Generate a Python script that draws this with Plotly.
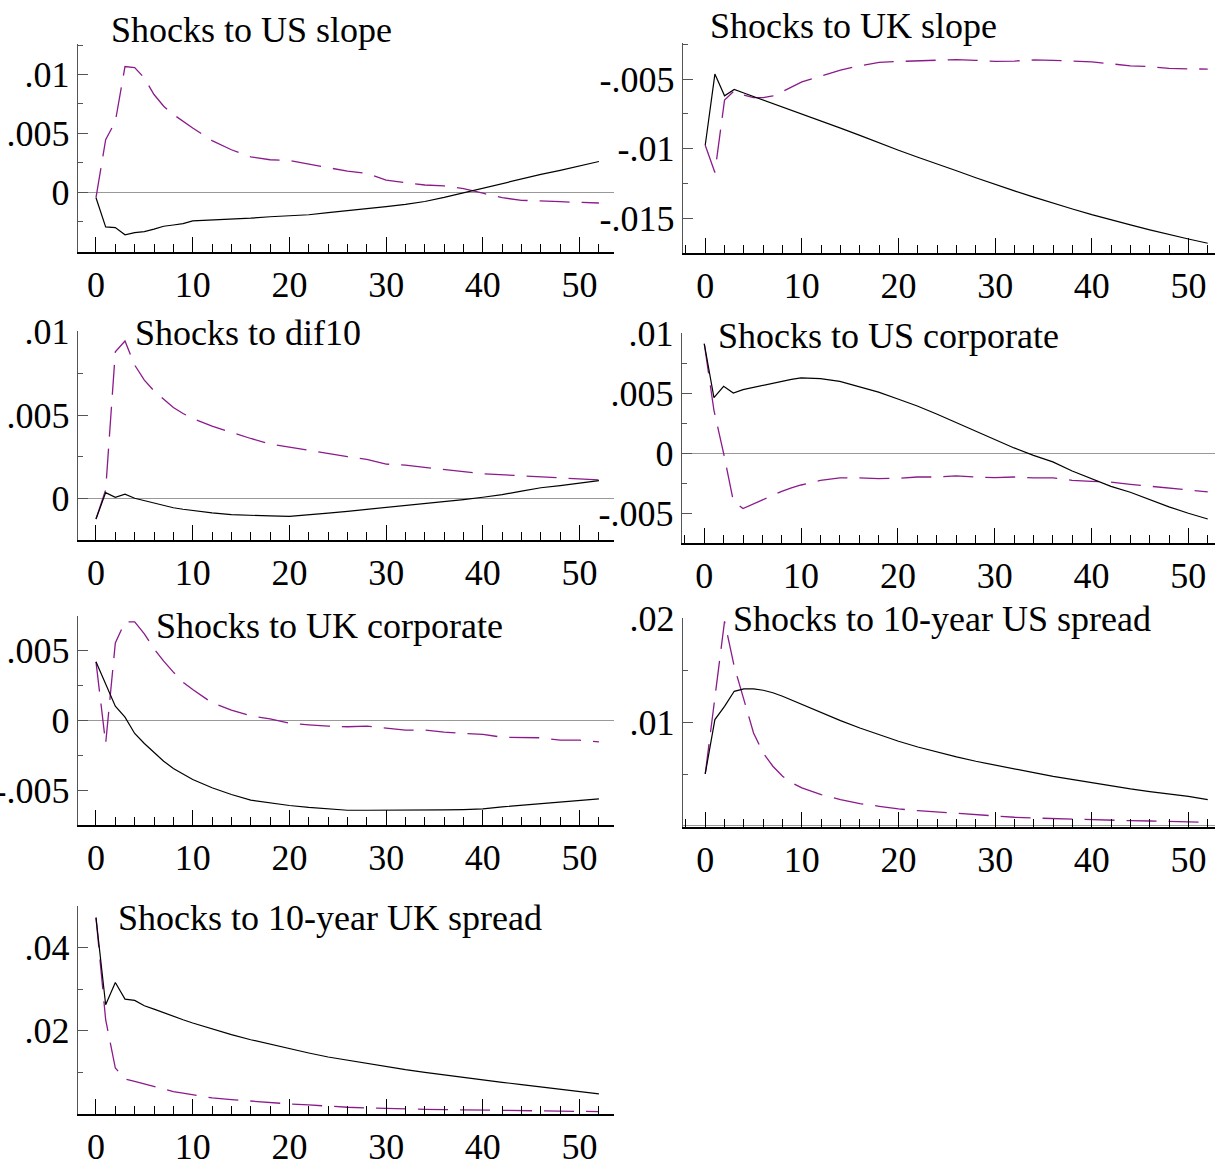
import plotly.graph_objects as go

# ---------------- data ----------------
horizon = [0, 1, 2, 3, 4, 5, 6, 7, 8, 9, 10, 12, 14, 16, 18, 20, 22, 24, 26, 28,
           30, 32, 34, 36, 38, 40, 42, 44, 46, 48, 50, 52]

titles = ["Shocks to US slope", "Shocks to UK slope", "Shocks to dif10",
          "Shocks to US corporate", "Shocks to UK corporate",
          "Shocks to 10-year US spread", "Shocks to 10-year UK spread"]

us_slope_solid = [-0.00048, -0.00297, -0.00302, -0.00364, -0.00345, -0.00336, -0.00315, -0.00291,
                  -0.00280, -0.00268, -0.00245, -0.00238, -0.00230, -0.00222, -0.00210, -0.00203,
                  -0.00193, -0.00175, -0.00160, -0.00143, -0.00124, -0.00105, -0.00080, -0.00045,
                  -0.00005, 0.00034, 0.00070, 0.00110, 0.00150, 0.00185, 0.00225, 0.00260]
us_slope_dash = [-0.00048, 0.00446, 0.00600, 0.01068, 0.01060, 0.00970, 0.00830, 0.00730,
                 0.00660, 0.00600, 0.00545, 0.00438, 0.00360, 0.00300, 0.00275, 0.00268,
                 0.00240, 0.00206, 0.00178, 0.00158, 0.00102, 0.00079, 0.00060, 0.00052,
                 0.00030, -0.00010, -0.00048, -0.00070, -0.00079, -0.00082, -0.00088, -0.00093]

uk_slope_solid = [-0.00976, -0.00464, -0.00620, -0.00574, -0.00600, -0.00625, -0.00650, -0.00675,
                  -0.00700, -0.00724, -0.00748, -0.00800, -0.00853, -0.00905, -0.00960, -0.01012,
                  -0.01063, -0.01110, -0.01160, -0.01210, -0.01260, -0.01305, -0.01350, -0.01395,
                  -0.01435, -0.01476, -0.01515, -0.01550, -0.01585, -0.01620, -0.01651, -0.01682]
uk_slope_dash = [-0.00976, -0.01172, -0.00650, -0.00584, -0.00615, -0.00634, -0.00634, -0.00620,
                 -0.00590, -0.00555, -0.00520, -0.00478, -0.00435, -0.00404, -0.00380, -0.00373,
                 -0.00370, -0.00362, -0.00359, -0.00365, -0.00372, -0.00370, -0.00362, -0.00365,
                 -0.00372, -0.00376, -0.00390, -0.00404, -0.00410, -0.00423, -0.00426, -0.00428]

dif10_solid = [-0.00122, 0.00036, 0.00008, 0.00026, 0.00002, -0.00012, -0.00028, -0.00044,
               -0.00055, -0.00064, -0.00072, -0.00086, -0.00096, -0.00102, -0.00104, -0.00106,
               -0.00098, -0.00087, -0.00076, -0.00065, -0.00050, -0.00042, -0.00030, -0.00018,
               -0.00006, 0.00008, 0.00024, 0.00045, 0.00065, 0.00078, 0.00094, 0.00108]
dif10_dash = [-0.00122, 0.00052, 0.00880, 0.00944, 0.00800, 0.00710, 0.00645, 0.00594,
              0.00546, 0.00510, 0.00480, 0.00434, 0.00396, 0.00360, 0.00327, 0.00307,
              0.00287, 0.00267, 0.00251, 0.00235, 0.00207, 0.00200, 0.00186, 0.00175,
              0.00161, 0.00149, 0.00143, 0.00135, 0.00128, 0.00124, 0.00116, 0.00112]

us_corp_solid = [0.00916, 0.00465, 0.00560, 0.00504, 0.00532, 0.00549, 0.00568, 0.00585,
                 0.00604, 0.00618, 0.00630, 0.00624, 0.00602, 0.00560, 0.00512, 0.00454,
                 0.00396, 0.00329, 0.00259, 0.00187, 0.00117, 0.00045, -0.00017, -0.00072,
                 -0.00148, -0.00212, -0.00276, -0.00326, -0.00387, -0.00448, -0.00501, -0.00549]
us_corp_dash = [0.00916, 0.00359, 0.00000, -0.00398, -0.00462, -0.00426, -0.00387, -0.00352,
                -0.00318, -0.00290, -0.00265, -0.00226, -0.00206, -0.00206, -0.00212, -0.00209,
                -0.00198, -0.00198, -0.00189, -0.00198, -0.00203, -0.00198, -0.00206, -0.00206,
                -0.00226, -0.00234, -0.00240, -0.00259, -0.00276, -0.00290, -0.00309, -0.00323]

uk_corp_solid = [0.00421, 0.00258, 0.00103, 0.00024, -0.00093, -0.00165, -0.00232, -0.00292,
                 -0.00344, -0.00385, -0.00423, -0.00483, -0.00531, -0.00572, -0.00593, -0.00610,
                 -0.00624, -0.00636, -0.00644, -0.00644, -0.00644, -0.00646, -0.00642, -0.00642,
                 -0.00639, -0.00634, -0.00620, -0.00608, -0.00598, -0.00584, -0.00572, -0.00562]
uk_corp_dash = [0.00421, -0.00165, 0.00557, 0.00708, 0.00708, 0.00622, 0.00514, 0.00426,
                0.00347, 0.00275, 0.00222, 0.00127, 0.00074, 0.00033, 0.00012, -0.00019,
                -0.00031, -0.00041, -0.00045, -0.00041, -0.00055, -0.00069, -0.00069, -0.00084,
                -0.00093, -0.00100, -0.00120, -0.00124, -0.00124, -0.00141, -0.00141, -0.00153]

us_spread_solid = [0.00502, 0.01026, 0.01154, 0.01299, 0.01322, 0.01322, 0.01309, 0.01285,
                   0.01251, 0.01212, 0.01170, 0.01090, 0.01016, 0.00945, 0.00881, 0.00817,
                   0.00762, 0.00711, 0.00666, 0.00624, 0.00585, 0.00547, 0.00514, 0.00479,
                   0.00447, 0.00415, 0.00386, 0.00357, 0.00331, 0.00309, 0.00286, 0.00254]
us_spread_dash = [0.00502, 0.01219, 0.01974, 0.01540, 0.01219, 0.00897, 0.00704, 0.00576,
                  0.00479, 0.00415, 0.00367, 0.00302, 0.00254, 0.00215, 0.00190, 0.00164,
                  0.00148, 0.00135, 0.00119, 0.00106, 0.00093, 0.00084, 0.00077, 0.00071,
                  0.00064, 0.00061, 0.00055, 0.00051, 0.00048, 0.00045, 0.00042, 0.00035]

uk_spread_solid = [0.04730, 0.02627, 0.03165, 0.02763, 0.02731, 0.02602, 0.02522, 0.02430,
                   0.02345, 0.02265, 0.02185, 0.02040, 0.01904, 0.01783, 0.01671, 0.01566,
                   0.01462, 0.01365, 0.01285, 0.01205, 0.01133, 0.01060, 0.00996, 0.00932,
                   0.00867, 0.00811, 0.00755, 0.00699, 0.00643, 0.00594, 0.00546, 0.00474]
uk_spread_dash = [0.04730, 0.02265, 0.01100, 0.00835, 0.00779, 0.00715, 0.00643, 0.00578,
                  0.00530, 0.00494, 0.00458, 0.00378, 0.00337, 0.00297, 0.00257, 0.00233,
                  0.00209, 0.00177, 0.00153, 0.00137, 0.00121, 0.00112, 0.00104, 0.00096,
                  0.00088, 0.00080, 0.00072, 0.00064, 0.00064, 0.00056, 0.00056, 0.00048]

x_tick_vals = [0, 10, 20, 30, 40, 50]
x_tick_text = ["0", "10", "20", "30", "40", "50"]

y_ticks = [
    ([0, 0.005, 0.01], ["0", ".005", ".01"]),
    ([-0.015, -0.01, -0.005], ["-.015", "-.01", "-.005"]),
    ([0, 0.005, 0.01], ["0", ".005", ".01"]),
    ([-0.005, 0, 0.005, 0.01], ["-.005", "0", ".005", ".01"]),
    ([-0.005, 0, 0.005], ["-.005", "0", ".005"]),
    ([0.01, 0.02], [".01", ".02"]),
    ([0.02, 0.04], [".02", ".04"]),
]
y_minor = [
    [-0.0025, 0.0025, 0.0075, 0.0125],
    [-0.0175, -0.0125, -0.0075, -0.0025],
    [-0.0025, 0.0025, 0.0075],
    [-0.0075, -0.0025, 0.0025, 0.0075],
    [-0.0075, -0.0025, 0.0025, 0.0075],
    [0.005, 0.015],
    [0.01, 0.03, 0.05],
]

series = [
    (us_slope_solid, us_slope_dash),
    (uk_slope_solid, uk_slope_dash),
    (dif10_solid, dif10_dash),
    (us_corp_solid, us_corp_dash),
    (uk_corp_solid, uk_corp_dash),
    (us_spread_solid, us_spread_dash),
    (uk_spread_solid, uk_spread_dash),
]

# ---------------- layout geometry (pixels) ----------------
W, Hgt = 1215, 1162
# (left, right, top, bottom) in px
boxes = [
    (78, 614, 44, 252),
    (683, 1215, 43, 253),
    (78, 614, 331, 540),
    (682, 1215, 333, 543),
    (78, 614, 616, 825),
    (683, 1215, 618, 827),
    (78, 614, 906, 1114),
]
y_ranges = [
    [-0.0051, 0.0126],
    [-0.01752, -0.0024],
    [-0.00248, 0.01004],
    [-0.0075, 0.01006],
    [-0.0075, 0.0075],
    [-0.0001, 0.02006],
    [-0.0001, 0.0501],
]
left_x = [-1.86, 53.56]
right_x = [-2.3, 52.75]
x_ranges = [left_x, right_x, left_x, right_x, left_x, right_x, left_x]
title_pos = [(109, 30), (708, 26), (133, 333), (716, 336), (154, 626), (731, 619), (116, 918)]

FONT = "Liberation Serif, Times New Roman, serif"
FS = 36
PURPLE = "#8b1a8b"
AXGRAY = "#555555"

fig = go.Figure()
layout = dict(
    template="none",
    width=W, height=Hgt,
    margin=dict(l=0, r=0, t=0, b=0, pad=0, autoexpand=False),
    paper_bgcolor="white", plot_bgcolor="white",
    showlegend=False,
    font=dict(family=FONT, size=FS, color="black"),
    annotations=[],
)

for i, ((solid, dash), box) in enumerate(zip(series, boxes)):
    n = i + 1
    xa = "x" if n == 1 else f"x{n}"
    ya = "y" if n == 1 else f"y{n}"
    fig.add_trace(go.Scatter(x=horizon, y=dash, mode="lines", xaxis=xa, yaxis=ya,
                             line=dict(color=PURPLE, width=1.3, dash="30px,12px"),
                             hoverinfo="skip"))
    fig.add_trace(go.Scatter(x=horizon, y=solid, mode="lines", xaxis=xa, yaxis=ya,
                             line=dict(color="black", width=1.2), hoverinfo="skip"))
    l, r, t, b = box
    xkey = "xaxis" if n == 1 else f"xaxis{n}"
    ykey = "yaxis" if n == 1 else f"yaxis{n}"
    layout[xkey] = dict(
        domain=[l / W, r / W], anchor=ya, range=x_ranges[i], automargin=False,
        showgrid=False, zeroline=False, showline=True, linecolor="black", linewidth=1.5,
        ticks="inside", ticklen=15, tickwidth=1.2, tickcolor="black",
        tickvals=x_tick_vals, ticktext=x_tick_text,
        ticklabelstandoff=0,
        tickfont=dict(family=FONT, size=FS, color="black"),
        minor=dict(ticks="inside", ticklen=8, tickwidth=1, tickcolor="black",
                   dtick=2, tick0=0, showgrid=False),
        fixedrange=True,
    )
    tv, tt = y_ticks[i]
    layout[ykey] = dict(
        domain=[1 - b / Hgt, 1 - t / Hgt], anchor=xa, range=y_ranges[i], automargin=False,
        showgrid=False, zeroline=True, zerolinecolor="#999999", zerolinewidth=1,
        showline=True, linecolor=AXGRAY, linewidth=1.4,
        ticks="inside", ticklen=10, tickwidth=1.2, tickcolor=AXGRAY,
        tickvals=tv, ticktext=tt, ticklabelstandoff=0,
        tickfont=dict(family=FONT, size=FS, color="black"),
        minor=dict(ticks="inside", ticklen=5, tickwidth=1, tickcolor=AXGRAY,
                   tickvals=y_minor[i], showgrid=False),
        fixedrange=True,
    )
    tx, ty = title_pos[i]
    layout["annotations"].append(dict(
        text=titles[i], xref="paper", yref="paper", x=tx / W, y=1 - ty / Hgt,
        xanchor="left", yanchor="middle", showarrow=False,
        font=dict(family=FONT, size=FS, color="black"),
    ))

fig.update_layout(**layout)
fig.write_html("out.html")
